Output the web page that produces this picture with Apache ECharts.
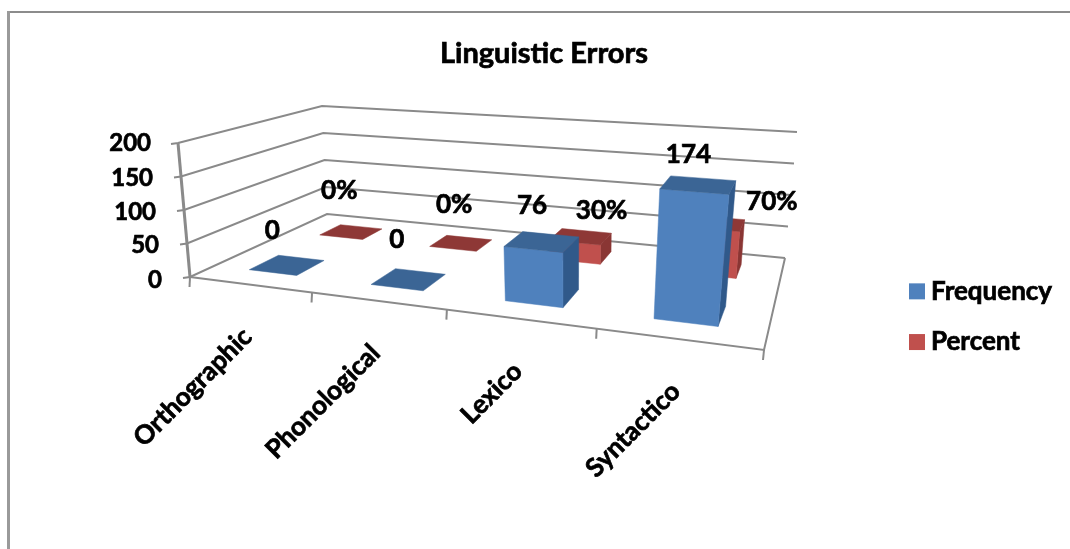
<!DOCTYPE html>
<html>
<head>
<meta charset="utf-8">
<style>html,body{margin:0;padding:0;background:#fff}#c{width:1070px;height:549px}</style>
<script src="https://cdn.jsdelivr.net/npm/echarts@6/dist/echarts.min.js"></script>
</head>
<body>
<div id="c"></div>
<script>
const categories = ['Orthographic', 'Phonological', 'Lexico', 'Syntactico'];
const frequencyValues = [0, 0, 76, 174];
const percentValues = [0, 0, 30, 70];
const yTicks = [0, 50, 100, 150, 200];

const FONT = 'Lato, "Open Sans", sans-serif';
const AXIS = '#8a8a8a';
const TEXT_FONT = 'bold 26px ' + FONT;
const THICKEN = { textBorderColor: '#000', textBorderWidth: 0.7 };
const GRID = { left: 190, top: 143, width: 574, height: 134 };

function quad(p) {
  const [p0, p1, p2, p3] = p;
  const dx1 = p1[0] - p2[0], dx2 = p3[0] - p2[0], sx = p0[0] - p1[0] + p2[0] - p3[0];
  const dy1 = p1[1] - p2[1], dy2 = p3[1] - p2[1], sy = p0[1] - p1[1] + p2[1] - p3[1];
  const den = dx1 * dy2 - dx2 * dy1;
  const g = (sx * dy2 - dx2 * sy) / den, h = (dx1 * sy - sx * dy1) / den;
  const a = p1[0] - p0[0] + g * p1[0], b = p3[0] - p0[0] + h * p3[0];
  const d = p1[1] - p0[1] + g * p1[1], e = p3[1] - p0[1] + h * p3[1];
  return (u, v) => {
    const w = g * u + h * v + 1;
    return [(a * u + b * v + p0[0]) / w, (d * u + e * v + p0[1]) / w];
  };
}
// perspective box: floor plane and plane at the axis maximum
const floorPlane = quad([[190, 277], [764, 350], [785, 258], [327, 214]]);
const topPlane = quad([[178, 143], [783, 190], [797, 132], [322, 106]]);
function project(u, v, t) {
  const a = floorPlane(u, v), b = topPlane(u, v);
  return [a[0] + (b[0] - a[0]) * t, a[1] + (b[1] - a[1]) * t];
}
function toUnit(params, api, cat, val) {
  const c = api.coord([cat, val]), s = params.coordSys;
  return [(c[0] - s.x) / s.width, (s.y + s.height - c[1]) / s.height];
}
function poly(points, fill) {
  return { type: 'polygon', shape: { points }, style: { fill, stroke: fill, lineWidth: 0.5 } };
}
function line(points, w) {
  return { type: 'polyline', shape: { points }, style: { fill: 'none', stroke: AXIS, lineWidth: w || 2 } };
}
function barSeries(name, values, look) {
  return {
    type: 'custom', name, coordinateSystem: 'cartesian2d', z: look.z,
    itemStyle: { color: look.front },
    encode: { x: 0, y: 1 },
    data: values.map((v, i) => [categories[i], v]),
    renderItem(params, api) {
      const i = params.dataIndex, val = api.value(1);
      const [uc, t] = toUnit(params, api, i, val);
      const hw = 0.25 * look.halfWidth;
      const u0 = uc - hw, u1 = uc + hw, v0 = look.depth[0], v1 = look.depth[1];
      const children = [];
      if (t > 0) {
        children.push(poly([project(u1, v0, 0), project(u1, v1, 0), project(u1, v1, t), project(u1, v0, t)], look.side));
        children.push(poly([project(u0, v0, 0), project(u1, v0, 0), project(u1, v0, t), project(u0, v0, t)], look.front));
      }
      children.push(poly([project(u0, v0, t), project(u1, v0, t), project(u1, v1, t), project(u0, v1, t)], look.top));
      return { type: 'group', children };
    }
  };
}
function labelSeries(name, values, look) {
  return {
    type: 'custom', name: name + ' labels', coordinateSystem: 'cartesian2d', z: 5, silent: true,
    data: values.map((v, i) => [categories[i], v]),
    renderItem(params, api) {
      const i = params.dataIndex;
      const [uc, t] = toUnit(params, api, i, api.value(1));
      const anchor = project(uc, (look.depth[0] + look.depth[1]) / 2, t);
      const nudge = look.nudge[i];
      return {
        type: 'text',
        style: {
          x: anchor[0] + nudge[0], y: anchor[1] + nudge[1],
          text: values[i] + look.suffix, align: 'center', verticalAlign: 'middle',
          font: TEXT_FONT, fill: '#000', stroke: '#000', lineWidth: 0.7
        }
      };
    }
  };
}

const percentLook = {
  z: 2, front: '#C0504D', top: '#8E3836', side: '#8A3634',
  depth: [0.67, 0.85], halfWidth: 0.2, suffix: '%',
  nudge: [[-12, -41], [-7, -38], [21, -26], [58, -21]]
};
const frequencyLook = {
  z: 3, front: '#4F81BD', top: '#3B6595', side: '#30598A',
  depth: [0.15, 0.35], halfWidth: 0.2, suffix: '',
  nudge: [[-15, -34], [-12, -40], [-10, -36], [-10, -30]]
};

const yLabelPad = { 200: [0, 11], 150: [3, 9], 100: [4, 6], 50: [3, 3], 0: [6, 0] };
const yRich = {};
yTicks.forEach(v => {
  yRich['t' + v] = Object.assign({
    fontFamily: FONT, fontWeight: 'bold', fontSize: 24,
    color: '#000', padding: [yLabelPad[v][0], yLabelPad[v][1], 0, 0]
  }, THICKEN);
});

const option = {
  animation: false,
  backgroundColor: '#fff',
  title: {
    text: 'Linguistic Errors', left: 539, top: 34, textAlign: 'center',
    textStyle: Object.assign({ fontFamily: FONT, fontWeight: 'bold', fontSize: 29, color: '#000' }, THICKEN)
  },
  legend: {
    data: ['Frequency', 'Percent'], orient: 'vertical', left: 909, top: 278, padding: 0,
    icon: 'rect', itemWidth: 16, itemHeight: 16, itemGap: 24,
    textStyle: Object.assign({ fontFamily: FONT, fontWeight: 'bold', fontSize: 26, color: '#000', padding: [0, 0, 0, 1] }, THICKEN)
  },
  grid: GRID,
  xAxis: {
    type: 'category', data: categories,
    axisLine: { show: false }, axisTick: { show: false }, axisLabel: { show: false }, splitLine: { show: false }
  },
  yAxis: {
    type: 'value', min: 0, max: 200, interval: 50,
    axisLine: { show: false }, axisTick: { show: false }, splitLine: { show: false },
    axisLabel: { margin: 28, formatter: v => '{t' + v + '|' + v + '}', rich: yRich }
  },
  graphic: [
    { type: 'line', z: 0, shape: { x1: 8, y1: 12, x2: 1070, y2: 12 }, style: { stroke: '#8c8c8c', lineWidth: 2 } },
    { type: 'line', z: 0, shape: { x1: 8.5, y1: 11, x2: 8.5, y2: 549 }, style: { stroke: '#9a9a9a', lineWidth: 3 } }
  ],
  series: [
    {
      type: 'custom', name: 'walls', coordinateSystem: 'cartesian2d', z: 1, silent: true,
      data: yTicks.map(v => [categories[0], v]),
      renderItem(params, api) {
        const [, t] = toUnit(params, api, 0, api.value(1));
        const front = project(0, 0, t);
        return {
          type: 'group', children: [
            line([[front[0] - 7, front[1] + 1], front, project(0, 1, t), project(1, 1, t)], 2)
          ]
        };
      }
    },
    {
      type: 'custom', name: 'floor', coordinateSystem: 'cartesian2d', z: 1, silent: true,
      data: [[categories[0], 0]],
      renderItem() {
        return {
          type: 'group', children: [
            line([project(0, 0, 1), project(0, 0, 0)], 3),
            line([project(0, 0, 0), project(1, 0, 0), project(1, 1, 0)], 2)
          ]
        };
      }
    },
    {
      type: 'custom', name: 'categoryAxis', coordinateSystem: 'cartesian2d', z: 1, silent: true,
      data: categories.map(c => [c, 0]),
      renderItem(params, api) {
        const i = params.dataIndex;
        const [uc] = toUnit(params, api, i, 0);
        const edge = 0.125;
        const a = project(uc - edge, 0, 0), b = project(uc, 0, 0);
        const children = [line([a, [a[0] - 0.5, a[1] + 10]], 2)];
        if (i === categories.length - 1) {
          const e = project(uc + edge, 0, 0);
          children.push(line([e, [e[0] - 1, e[1] + 10]], 2));
        }
        children.push({
          type: 'text',
          rotation: Math.PI / 4, x: b[0] - 2, y: b[1] + 48,
          style: {
            text: categories[i], x: 0, y: 0, align: 'right', verticalAlign: 'middle',
            font: TEXT_FONT, fill: '#000', stroke: '#000', lineWidth: 0.7
          }
        });
        return { type: 'group', children };
      }
    },
    barSeries('Percent', percentValues, percentLook),
    barSeries('Frequency', frequencyValues, frequencyLook),
    labelSeries('Percent', percentValues, percentLook),
    labelSeries('Frequency', frequencyValues, frequencyLook)
  ]
};
const chart = echarts.init(document.getElementById('c'), null, { renderer: 'canvas' });
chart.setOption(option);
</script>
</body>
</html>
